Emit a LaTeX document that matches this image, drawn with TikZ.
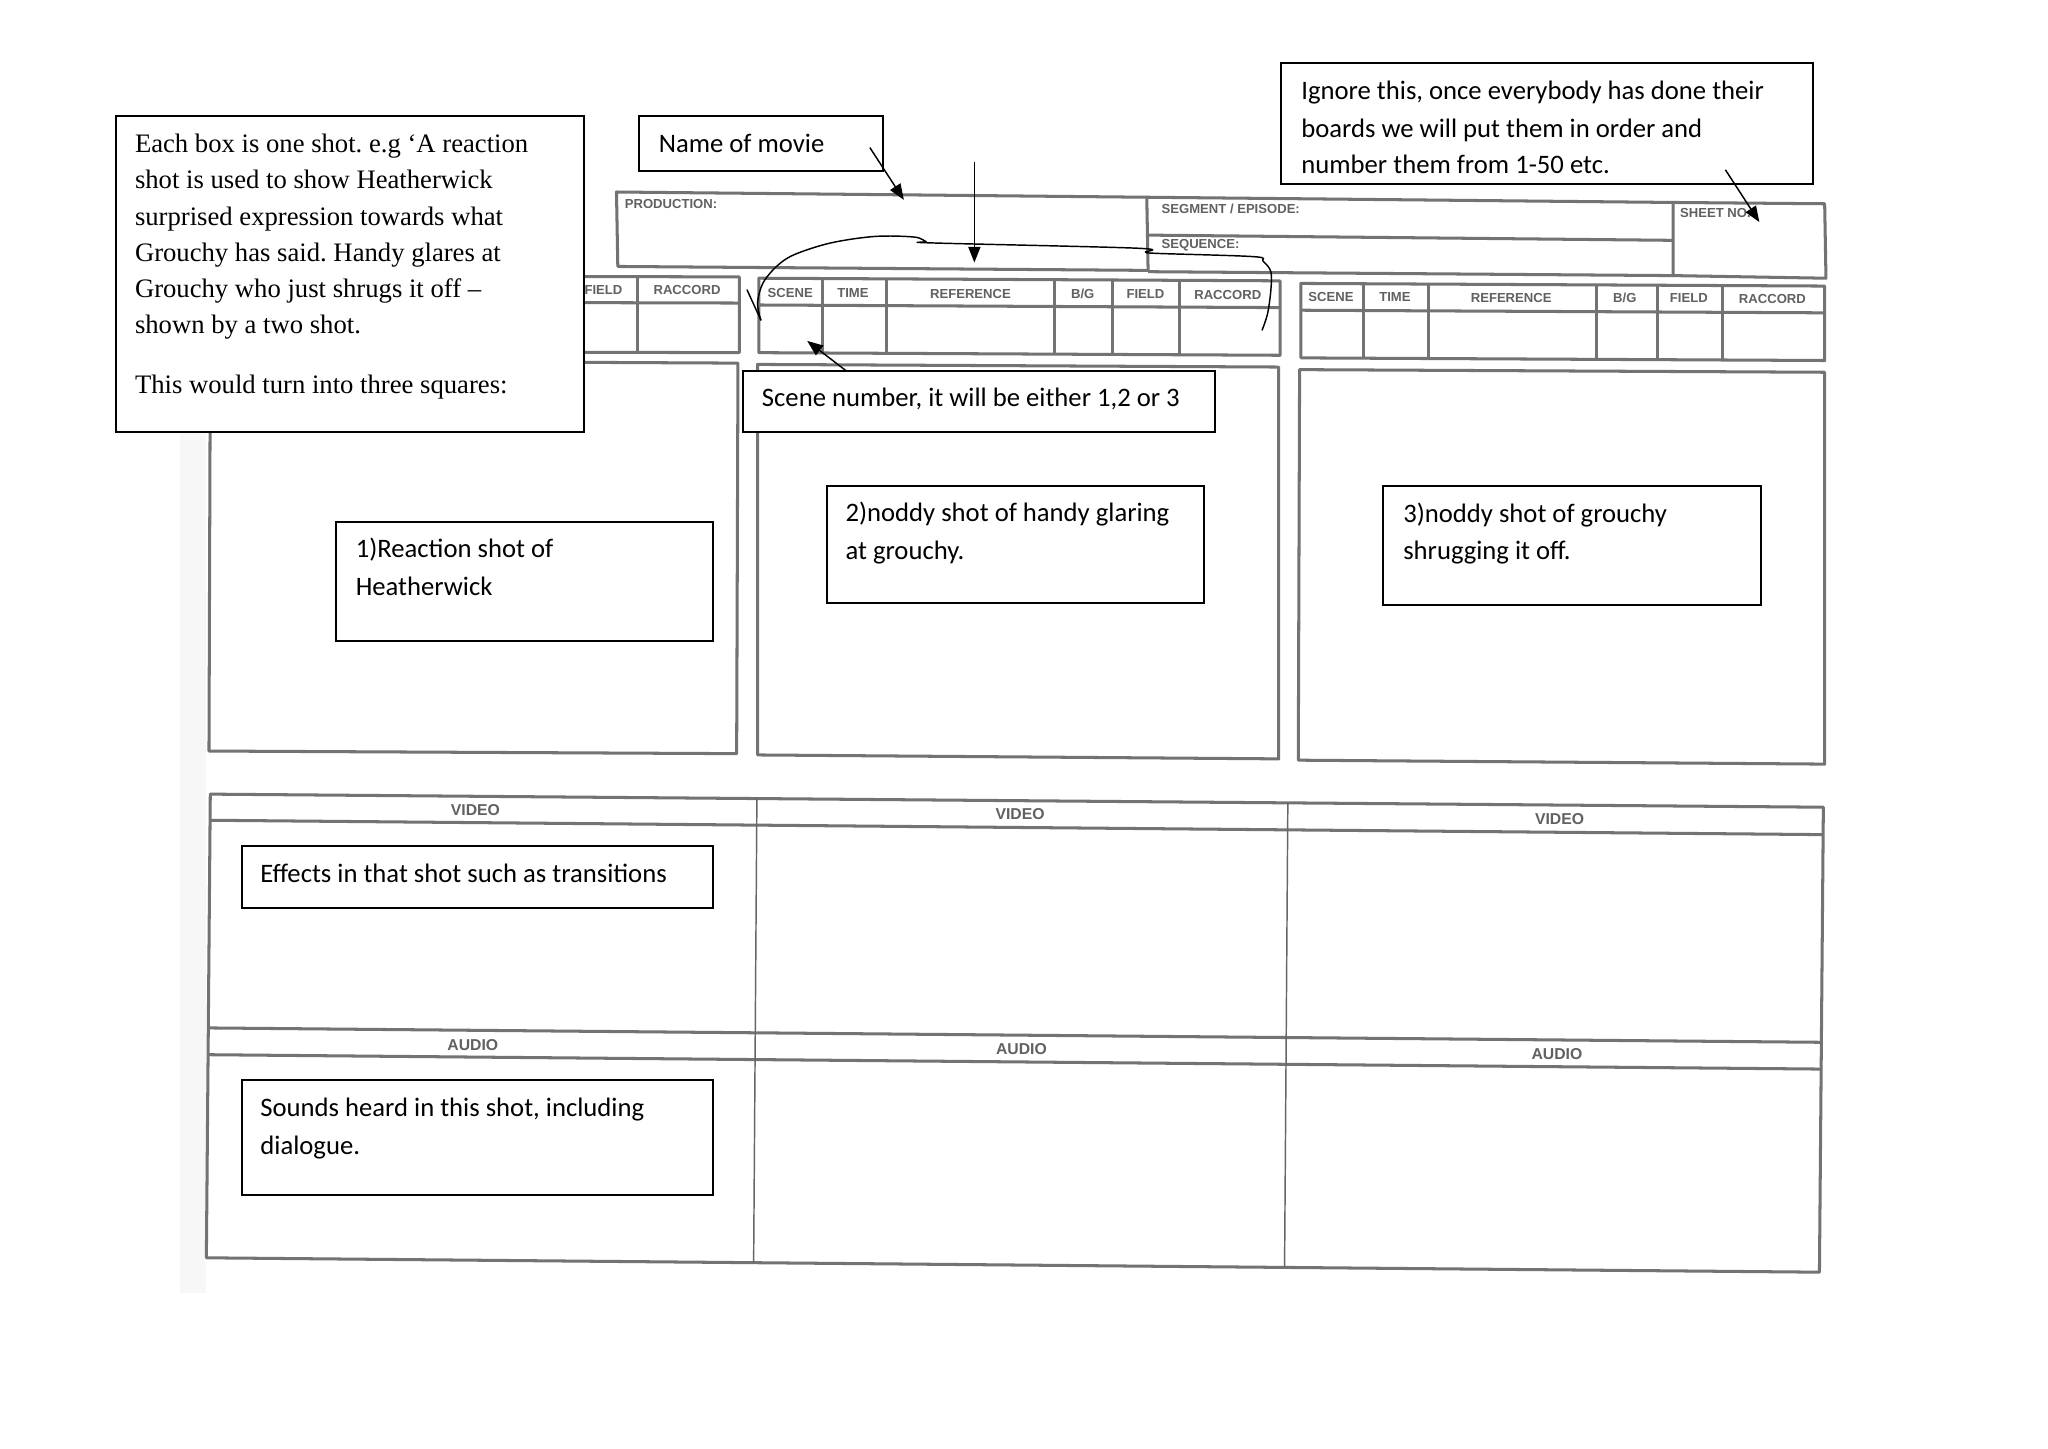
\documentclass[tikz,border=0pt]{standalone}
\usepackage{fontspec}
\setmainfont{Liberation Serif}
\newfontfamily\calib{Carlito}
\newfontfamily\formfont{Liberation Sans}
\usetikzlibrary{arrows.meta,fit}
\frenchspacing
\begin{document}
\begin{tikzpicture}[x=0.01894cm,y=-0.01894cm,
  formline/.style={draw=black!55, line width=1.25pt, line join=round},
  thinform/.style={draw=black!60, line width=0.6pt},
  lbl/.style={font=\formfont\bfseries\fontsize{5.4}{6}\selectfont, text=black!62, inner sep=0pt},
  biglbl/.style={font=\formfont\bfseries\fontsize{6.5}{7}\selectfont, text=black!62, inner sep=0pt},
  note/.style={draw=black, line width=0.8pt, fill=white, inner sep=0pt},
  ntext/.style={font=\calib\fontsize{11}{13}\selectfont, anchor=base west, inner sep=0pt},
  stext/.style={font=\fontsize{11}{13}\selectfont, anchor=base west, inner sep=0pt},
  ptr/.style={draw=black, line width=0.6pt, -{Triangle[length=6.5pt,width=5pt]}},
  pen/.style={draw=black, line width=0.6pt, line join=round, line cap=round},
]
\useasboundingbox (0,0) rectangle (1568,1109);
\fill[white] (0,0) rectangle (1568,1109);
% faint scan margin
\fill[black!3] (138,330) rectangle (158,990);

% ---------- header of the form ----------
\draw[formline] (472,147) -- (878,151) -- (879,207) -- (473,204) -- cycle;
\draw[formline] (878,151) -- (1281,155) -- (1281,211) -- (879,208);
\draw[formline] (879,180) -- (1281,184);
\draw[formline] (1281,155) -- (1397,156) -- (1398,213) -- (1281,211);
\node[lbl, anchor=west] (prod) at (478,156) {PRODUCTION:};
\node[lbl, anchor=west] (seg) at (889,160) {SEGMENT / EPISODE:};
\node[lbl, anchor=west] (seq) at (889,188) {SEQUENCE:};
\node[lbl, anchor=west] (sheet) at (1286,163) {SHEET NO.};

% ---------- header rows ----------
% left (mostly hidden behind the note)
\draw[formline] (167,211) -- (566,212) -- (566,270) -- (167,269) -- cycle;
\draw[formline] (167,231) -- (566,232);
\foreach \x in {216,265,393,438,488} \draw[formline] (\x,211) -- (\x,270);
\node[lbl] (lfield) at (462,222) {FIELD};
\node[lbl] (lrac) at (526,222) {RACCORD};
% middle
\draw[formline] (581,213) -- (980,215) -- (980,272) -- (581,270) -- cycle;
\draw[formline] (581,233.5) -- (980,235.5);
\draw[formline] (630,213) -- (630,270);
\draw[formline] (679,213) -- (679,270);
\draw[formline] (807,214) -- (807,271);
\draw[formline] (852,214) -- (852,271);
\draw[formline] (903,214) -- (903,272);
\node[lbl] (mscene) at (605,224) {SCENE};
\node[lbl] (mtime) at (653,224) {TIME};
\node[lbl] (mref) at (743,225) {REFERENCE};
\node[lbl] (mbg) at (829,225) {B/G};
\node[lbl] (mfield) at (877,225) {FIELD};
\node[lbl] (mrac) at (940,226) {RACCORD};
% right
\draw[formline] (996,217) -- (1397,219) -- (1397,276) -- (996,274) -- cycle;
\draw[formline] (996,237.5) -- (1397,239.5);
\draw[formline] (1044,217) -- (1044,274);
\draw[formline] (1094,217) -- (1094,274);
\draw[formline] (1222,218) -- (1222,275);
\draw[formline] (1269,218) -- (1269,275);
\draw[formline] (1319,218) -- (1319,276);
\node[lbl] (rscene) at (1019,227) {SCENE};
\node[lbl] (rtime) at (1068,227) {TIME};
\node[lbl] (rref) at (1157,228) {REFERENCE};
\node[lbl] (rbg) at (1244,228) {B/G};
\node[lbl] (rfield) at (1293,228) {FIELD};
\node[lbl] (rrac) at (1357,229) {RACCORD};

% ---------- picture frames ----------
\draw[formline] (161,276) -- (565,278) -- (564,577) -- (160,575) -- cycle;
\draw[formline] (580,279) -- (979,281) -- (979,581) -- (580,578) -- cycle;
\draw[formline] (995,283) -- (1397,285) -- (1397,585) -- (994,582) -- cycle;

% ---------- video / audio table ----------
\draw[formline] (161,608) -- (1396,618) -- (1393,974) -- (158,963) -- cycle;
\draw[formline] (161,628) -- (1396,639);
\draw[formline] (160,787) -- (1395,798);
\draw[formline] (160,807.5) -- (1395,818.5);
\draw[thinform] (579.5,611.5) -- (577,966.5);
\draw[thinform] (986,614.5) -- (983.5,970);
\node[biglbl] (v1) at (364,620) {VIDEO};
\node[biglbl] (v2) at (781,623.5) {VIDEO};
\node[biglbl] (v3) at (1194,627) {VIDEO};
\node[biglbl] (a1) at (362,800.5) {AUDIO};
\node[biglbl] (a2) at (782,803.5) {AUDIO};
\node[biglbl] (a3) at (1192,807) {AUDIO};

% ---------- hand-drawn bracket ----------
\draw[pen] (572,222) -- (582.5,245);
\draw[pen] plot[smooth, tension=0.55] coordinates {(582.5,245) (580,232) (584,217) (594.5,204) (608,195) (636,186) (670,181) (700,181.5) (709,185) (714,186) (870,190) (877,193) (886,194) (960,196.5) (967,200) (973,208) (973,222) (970.5,240) (966.3,252.7)};

% ---------- notes ----------
\node[note, fit={(89,89)(447,331)}] (explain) {};
\node[stext] (e1) at (103,116.5) {Each box is one shot. e.g ‘A reaction};
\node[stext] (e2) at (103,144.5) {shot is used to show Heatherwick};
\node[stext] (e3) at (103,172.5) {surprised expression towards what};
\node[stext] (e4) at (103,200) {Grouchy has said. Handy glares at};
\node[stext] (e5) at (103,227.5) {Grouchy who just shrugs it off –};
\node[stext] (e6) at (103,255.5) {shown by a two shot.};
\node[stext] (e7) at (103,301.5) {This would turn into three squares:};

\node[note, fit={(489,89)(676,131)}] (movie) {};
\node[ntext] (movietxt) at (504,117) {Name of movie};

\node[note, fit={(981,48)(1388,141)}] (ignore) {};
\node[ntext] (i1) at (996,76) {Ignore this, once everybody has done their};
\node[ntext] (i2) at (996,105) {boards we will put them in order and};
\node[ntext] (i3) at (996,133) {number them from 1-50 etc.};

\node[note, fit={(569,284)(930,331)}] (scene) {};
\node[ntext] (scenetxt) at (583,311) {Scene number, it will be either 1,2 or 3};

\node[note, fit={(257,400)(546,491)}] (shot1) {};
\node[ntext] (s1a) at (272,427) {1)Reaction shot of};
\node[ntext] (s1b) at (272,456) {Heatherwick};

\node[note, fit={(633,372)(922,462)}] (shot2) {};
\node[ntext] (s2a) at (647,399) {2)noddy shot of handy glaring};
\node[ntext] (s2b) at (647,428) {at grouchy.};

\node[note, fit={(1059,372)(1348,463)}] (shot3) {};
\node[ntext] (s3a) at (1074,400) {3)noddy shot of grouchy};
\node[ntext] (s3b) at (1074,428) {shrugging it off.};

\node[note, fit={(185,648)(546,695)}] (effects) {};
\node[ntext] (efftxt) at (199,676) {Effects in that shot such as transitions};

\node[note, fit={(185,827)(546,915)}] (sounds) {};
\node[ntext] (snd1) at (199,855) {Sounds heard in this shot, including};
\node[ntext] (snd2) at (199,884) {dialogue.};

% ---------- arrows ----------
\coordinate (movieFrom) at (666,113);
\coordinate (movieTo) at (692,153);
\draw[ptr] (movieFrom) -- (movieTo);
\coordinate (refFrom) at (746,124);
\coordinate (refTo) at (746,201);
\draw[ptr] (refFrom) -- (refTo);
\coordinate (ignoreFrom) at (1321,130);
\coordinate (ignoreTo) at (1347,170);
\draw[ptr] (ignoreFrom) -- (ignoreTo);
\coordinate (sceneFrom) at (648,284);
\coordinate (sceneTo) at (618,261);
\draw[ptr] (sceneFrom) -- (sceneTo);
\end{tikzpicture}
\end{document}
